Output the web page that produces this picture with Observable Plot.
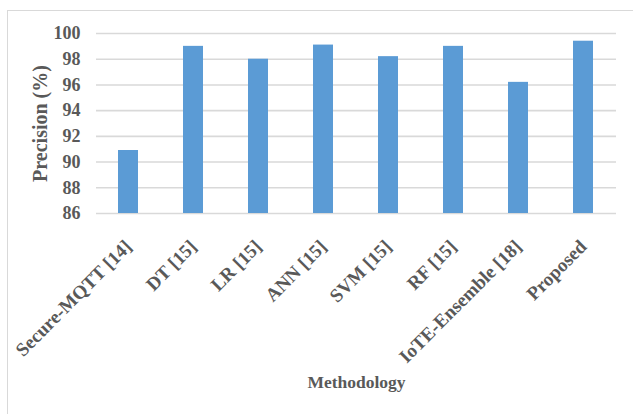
<!DOCTYPE html>
<html>
<head>
<meta charset="utf-8">
<script src="https://cdn.jsdelivr.net/npm/d3@7"></script>
<script src="https://cdn.jsdelivr.net/npm/@observablehq/plot@0.6"></script>
<style>
  html, body { margin: 0; padding: 0; background: #fff; overflow: hidden; }
  #wrap { position: relative; width: 633px; height: 414px; }
  #box {
    position: absolute; left: 7px; top: 10px; width: 700px; height: 500px;
    border-left: 1.5px solid #d9d9d9; border-top: 1.5px solid #d9d9d9;
  }
  #chart { position: absolute; left: 0; top: 0; }
  #chart svg { font-family: "Liberation Serif", "Times New Roman", serif; font-size: 18px; font-weight: bold; }
</style>
</head>
<body>
<div id="wrap">
  <div id="box"></div>
  <div id="chart"></div>
</div>
<script>
// Precision of each detection methodology
const methods = ["Secure-MQTT [14]", "DT [15]", "LR [15]", "ANN [15]", "SVM [15]", "RF [15]", "IoTE-Ensemble [18]", "Proposed"];
const precision = [90.9, 99.0, 98.0, 99.1, 98.2, 99.0, 96.2, 99.4];
const yTicks = [86, 88, 90, 92, 94, 96, 98, 100];
const yTitle = "Precision (%)";
const xTitle = "Methodology";

const rows = methods.map((m, i) => ({method: m, value: precision[i]}));

const textColor = "#595959";
const font = "Liberation Serif, Times New Roman, serif";

const chart = Plot.plot({
  width: 633,
  height: 414,
  marginLeft: 96,
  marginRight: 17,
  marginTop: 33,
  marginBottom: 201,
  style: {fontFamily: font, fontSize: "18px", fontWeight: "bold", background: "transparent", overflow: "visible"},
  x: {domain: methods, paddingInner: 0.692, paddingOuter: 0.346},
  y: {domain: [86, 100]},
  marks: [
    Plot.ruleY(yTicks, {stroke: "#d9d9d9", strokeWidth: 1.6}),
    Plot.barY(rows, {x: "method", y1: 86, y2: "value", fill: "#5b9bd5"}),
    Plot.axisY(yTicks, {
      tickSize: 0, tickPadding: 16, label: null, fill: textColor
    }),
    Plot.axisX({
      tickSize: 0, tickPadding: 30, tickRotate: -45, label: null,
      fontSize: 19, fill: textColor
    }),
    Plot.text([yTitle], {
      frameAnchor: "left", textAnchor: "middle", dx: -56, rotate: -90,
      fontSize: 20, fontWeight: "bold", fill: textColor
    }),
    Plot.text([xTitle], {
      frameAnchor: "bottom", dy: 174,
      fontSize: 17.5, fontWeight: "bold", fill: textColor
    })
  ]
});

document.getElementById("chart").appendChild(chart);
</script>
</body>
</html>
